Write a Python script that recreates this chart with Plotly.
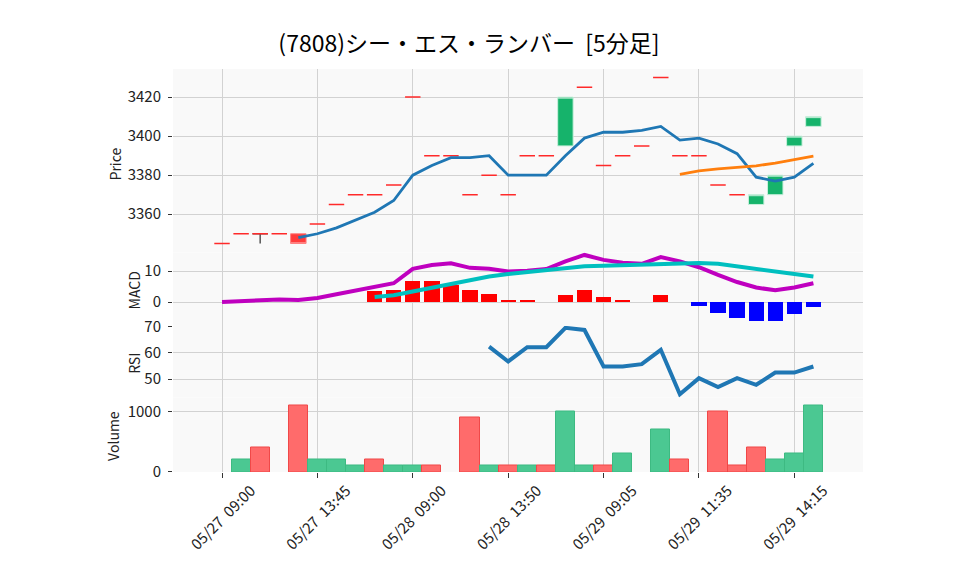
import plotly.graph_objects as go
from plotly.subplots import make_subplots

# ---------------- data ----------------
idx = list(range(32))
tick_idx = [0, 5, 10, 15, 20, 25, 30]
tick_labels = ["05/27  09:00", "05/27  13:45", "05/28  09:00", "05/28  13:50",
               "05/29  09:05", "05/29  11:35", "05/29  14:15"]

opens = [3345, 3350, 3350, 3350, 3350, 3355, 3365, 3370, 3370, 3375, 3420, 3390, 3390, 3370, 3380, 3370,
         3390, 3390, 3395, 3425, 3385, 3390, 3395, 3430, 3390, 3390, 3375, 3370, 3365, 3370, 3395, 3405]
highs = [3345, 3350, 3350, 3350, 3350, 3355, 3365, 3370, 3370, 3375, 3420, 3390, 3390, 3370, 3380, 3370,
         3390, 3390, 3420, 3425, 3385, 3390, 3395, 3430, 3390, 3390, 3375, 3370, 3370, 3380, 3400, 3410]
lows = [3345, 3350, 3345, 3350, 3345, 3355, 3365, 3370, 3370, 3375, 3420, 3390, 3390, 3370, 3380, 3370,
        3390, 3390, 3395, 3425, 3385, 3390, 3395, 3430, 3390, 3390, 3375, 3370, 3365, 3370, 3395, 3405]
closes = [3345, 3350, 3350, 3350, 3345, 3355, 3365, 3370, 3370, 3375, 3420, 3390, 3390, 3370, 3380, 3370,
          3390, 3390, 3420, 3425, 3385, 3390, 3395, 3430, 3390, 3390, 3375, 3370, 3370, 3380, 3400, 3410]

ma5 = [None] * 4 + [3348, 3350, 3353, 3357, 3361, 3367, 3380, 3385, 3389, 3389, 3390, 3380, 3380, 3380,
                    3390, 3399, 3402, 3402, 3403, 3405, 3398, 3399, 3396, 3391, 3379, 3377, 3379, 3386]
ma25 = [None] * 24 + [3380.4, 3382.2, 3383.2, 3384.0, 3384.8, 3386.2, 3388.0, 3389.8]

macd = [0.0, 0.3, 0.65, 0.85, 0.65, 1.3, 2.5, 3.8, 5.0, 6.1, 10.8, 12.0, 12.6, 11.1, 10.8, 9.9,
        10.2, 10.7, 13.2, 15.3, 13.7, 12.8, 12.4, 14.6, 13.2, 11.3, 8.8, 6.5, 4.7, 3.8, 4.7, 6.1]
signal = [None] * 8 + [1.6, 2.2, 3.4, 4.7, 6.0, 7.2, 8.3, 9.1, 9.8, 10.4, 11.1, 11.6, 11.8, 12.0,
                       12.1, 12.4, 12.7, 12.7, 12.4, 11.6, 10.5, 9.7, 8.9, 8.3]
hist = [None] * 8 + [3.3, 3.6, 6.8, 6.8, 5.5, 3.6, 2.3, 0.3, 0.3, 0.0, 2.0, 3.6, 1.6, 0.65,
                     0.0, 2.0, 0.0, -1.5, -3.8, -5.5, -6.4, -6.2, -4.1, -1.8]

rsi = [None] * 14 + [62.3, 56.7, 62.1, 62.1, 69.4, 68.6, 54.8, 54.8, 55.7, 61.1, 44.3, 50.4,
                     47.0, 50.4, 47.9, 52.5, 52.5, 54.8]

volume = [0, 200, 400, 0, 1100, 200, 200, 100, 200, 100, 100, 100, 0, 900, 100, 100,
          100, 100, 1000, 100, 100, 300, 0, 700, 200, 0, 1000, 100, 400, 200, 300, 1100]

panel_titles = ["Price", "MACD", "RSI", "Volume"]

# ---------------- styling ----------------
FONT = "Noto Sans CJK JP"
GREEN = "#16b36b"
RED_BODY = "#ff3b3b"
RED_DOJI = "#ff2a2a"
GRID = "#d2d2d2"
BG = "#f9f9f9"

fig = make_subplots(rows=4, cols=1, shared_xaxes=True, vertical_spacing=0,
                    row_heights=[0.4553, 0.1824, 0.1774, 0.1849])

# candles with bodies
body_i = [i for i in idx if opens[i] != closes[i]]
fig.add_trace(go.Candlestick(
    x=body_i, open=[opens[i] for i in body_i], high=[highs[i] for i in body_i],
    low=[lows[i] for i in body_i], close=[closes[i] for i in body_i],
    increasing=dict(line=dict(color="#c8efdc", width=1), fillcolor=GREEN),
    decreasing=dict(line=dict(color="#ff8080", width=1), fillcolor=RED_BODY),
    whiskerwidth=0, showlegend=False, hoverinfo="skip"), row=1, col=1)

# doji with a visible wick (grey)
wick_i = [i for i in idx if opens[i] == closes[i] and (highs[i] != lows[i])]
fig.add_trace(go.Candlestick(
    x=wick_i, open=[opens[i] for i in wick_i], high=[highs[i] for i in wick_i],
    low=[lows[i] for i in wick_i], close=[closes[i] for i in wick_i],
    increasing=dict(line=dict(color="#555555", width=1.5)),
    decreasing=dict(line=dict(color="#555555", width=1.5)),
    showlegend=False, hoverinfo="skip"), row=1, col=1)

# doji (open == close) drawn as red dashes
doji_i = [i for i in idx if opens[i] == closes[i]]
fig.add_trace(go.Candlestick(
    x=doji_i, open=[closes[i] for i in doji_i], high=[closes[i] for i in doji_i],
    low=[closes[i] for i in doji_i], close=[closes[i] for i in doji_i],
    increasing=dict(line=dict(color=RED_DOJI, width=1.5)),
    decreasing=dict(line=dict(color=RED_DOJI, width=1.5)),
    showlegend=False, hoverinfo="skip"), row=1, col=1)

fig.add_trace(go.Scatter(x=idx, y=ma5, mode="lines", line=dict(color="#1f77b4", width=2.8),
                         showlegend=False, hoverinfo="skip"), row=1, col=1)
fig.add_trace(go.Scatter(x=idx, y=ma25, mode="lines", line=dict(color="#ff7f0e", width=2.8),
                         showlegend=False, hoverinfo="skip"), row=1, col=1)

# MACD
hist_colors = ["#ff0000" if (h is not None and h >= 0) else "#0000ff" for h in hist]
fig.add_trace(go.Bar(x=idx, y=hist, marker=dict(color=hist_colors, line=dict(width=0)),
                     width=0.8, showlegend=False, hoverinfo="skip"), row=2, col=1)
fig.add_trace(go.Scatter(x=idx, y=macd, mode="lines", line=dict(color="#bf00bf", width=4),
                         showlegend=False, hoverinfo="skip"), row=2, col=1)
fig.add_trace(go.Scatter(x=idx, y=signal, mode="lines", line=dict(color="#00bfbf", width=4),
                         showlegend=False, hoverinfo="skip"), row=2, col=1)

# RSI
fig.add_trace(go.Scatter(x=idx, y=rsi, mode="lines", line=dict(color="#1f77b4", width=4),
                         showlegend=False, hoverinfo="skip"), row=3, col=1)

# Volume: green when close rises vs previous close, else red
vol_fill, vol_edge, vol_lw = [], [], []
for i in idx:
    up = i > 0 and closes[i] > closes[i - 1]
    vol_fill.append("#4bc892" if up else "#ff6b6b")
    vol_edge.append("#3dba82" if up else "#f04848")
    vol_lw.append(1 if volume[i] > 0 else 0)
fig.add_trace(go.Bar(x=idx, y=volume, marker=dict(color=vol_fill, line=dict(color=vol_edge, width=vol_lw)),
                     width=1.0, showlegend=False, hoverinfo="skip"), row=4, col=1)

# ---------------- layout ----------------
# (the page body adds an 8px offset, so margins are shifted by 8px)
fig.update_layout(
    width=958, height=575,
    margin=dict(l=165, r=103, t=61, b=111, autoexpand=False),
    paper_bgcolor="white", plot_bgcolor=BG,
    font=dict(family=FONT, size=15, color="#222222"),
    title=dict(text="(7808)シー・エス・ランバー\u00a0\u00a0[5分足]", x=0.4812, xanchor="center",
               y=0.937, yanchor="middle", font=dict(family=FONT, size=23, color="#000000")),
    bargap=0, barmode="overlay", showlegend=False,
    boxgap=0.1, boxgroupgap=0.1,
)

ticktext_nb = [t.replace(" ", "\u00a0") for t in tick_labels]
for r in range(1, 5):
    fig.update_xaxes(row=r, col=1, range=[-2.57, 33.6], tickmode="array", tickvals=tick_idx,
                     ticktext=ticktext_nb, showgrid=True, gridcolor=GRID, gridwidth=1.2,
                     zeroline=False, rangeslider=dict(visible=False), showline=False,
                     automargin=False)
fig.update_xaxes(row=4, col=1, ticks="outside", ticklen=5, tickcolor="#333", tickangle=-45,
                 tickfont=dict(size=15), ticklabelshift=29, ticklabelstandoff=-2)

yax = dict(showgrid=True, gridcolor=GRID, gridwidth=1.2, zeroline=False, ticks="outside",
           ticklen=4, tickcolor="#333", tickfont=dict(size=15), automargin=False,
           ticklabelstandoff=4)
fig.update_yaxes(row=1, col=1, range=[3340.4, 3434.4], tickvals=[3360, 3380, 3400, 3420], **yax)
fig.update_yaxes(row=2, col=1, range=[-7.8, 16.1], tickvals=[0, 10], **yax)
fig.update_yaxes(row=3, col=1, range=[43.1, 70.1], tickvals=[50, 60, 70], **yax)
fig.update_yaxes(row=4, col=1, range=[0, 1227], tickvals=[0, 1000], **yax)

# panel titles placed like the reference's y labels
title_x = [-0.084, -0.057, -0.057, -0.086]
yrefs = ["y domain", "y2 domain", "y3 domain", "y4 domain"]
for name, xx, yr in zip(panel_titles, title_x, yrefs):
    fig.add_annotation(text=name, textangle=-90, xref="paper", x=xx, yref=yr, y=0.48,
                       showarrow=False, xanchor="center", yanchor="middle",
                       font=dict(family=FONT, size=14, color="#222222"))

fig.write_html("out.html")
